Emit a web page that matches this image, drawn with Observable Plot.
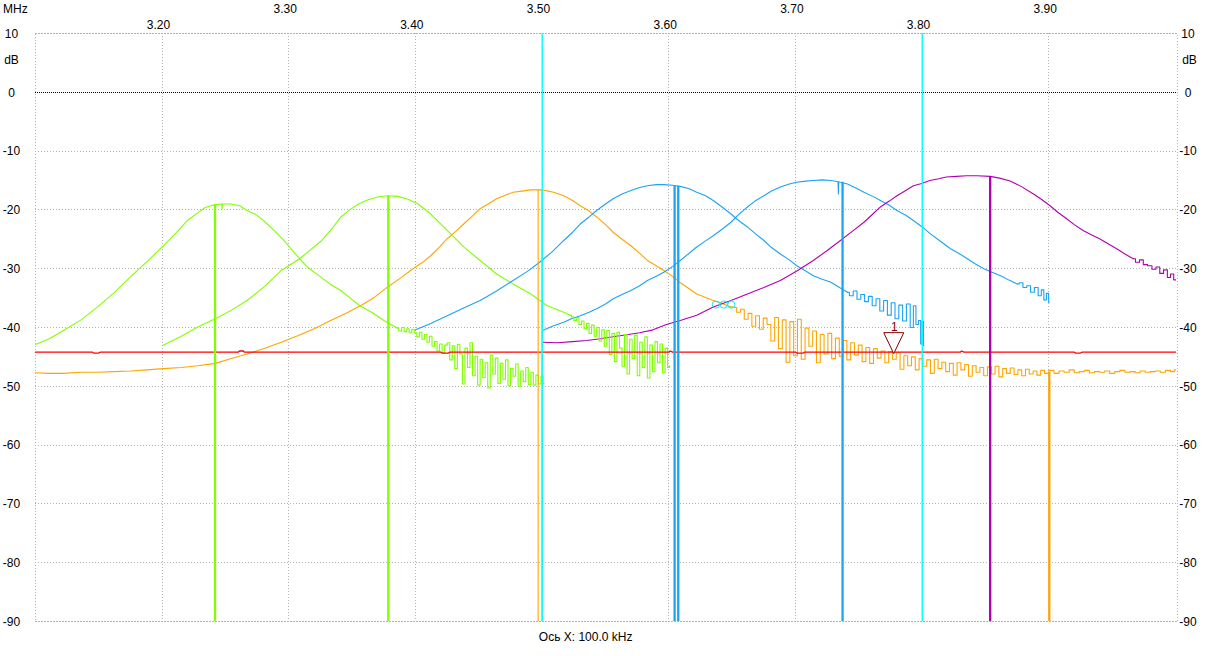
<!DOCTYPE html>
<html><head><meta charset="utf-8">
<script src="https://cdn.jsdelivr.net/npm/d3@7"></script>
<script src="https://cdn.jsdelivr.net/npm/@observablehq/plot@0.6"></script>
<style>html,body{margin:0;padding:0;background:#fff;overflow:hidden}</style>
</head><body><div id="chart"></div>
<script>
// ---- axes / labels ----
const xTicksLow = [3.2, 3.4, 3.6, 3.8];
const xTicksHigh = [3.3, 3.5, 3.7, 3.9];
const xGrid = [3.2, 3.3, 3.4, 3.5, 3.6, 3.7, 3.8, 3.9];
const yTicks = [10, 0, -10, -20, -30, -40, -50, -60, -70, -80, -90];
const xUnit = "MHz";
const yUnit = "dB";
const caption = "Ось X: 100.0 kHz";

// ---- traces [MHz, dB]: smooth part and noisy part of each ----
const traceG1 = [
[3.100,-42.9],[3.111,-41.9],[3.122,-40.5],[3.136,-38.7],[3.149,-36.5],[3.162,-34.1],[3.175,-31.4],[3.188,-28.8],[3.201,-26.1],[3.211,-23.9],[3.220,-21.8],[3.228,-20.5],[3.234,-19.6],[3.239,-19.25],[3.242,-19.1],[3.247,-19.0],[3.2473,-19.9],[3.2476,-19.0],[3.254,-19.0],[3.261,-19.3],[3.267,-20.1],[3.274,-20.8],[3.280,-21.8],[3.288,-23.4],[3.296,-25.2],[3.3065,-27.8],[3.315,-29.8],[3.325,-31.4],[3.333,-32.7],[3.341,-33.7],[3.349,-35.1],[3.356,-36.3],[3.366,-37.5],[3.375,-38.8],[3.3855,-40.1]
];
const noiseG1 = [
[3.3855,-40.1],[3.388,-40.6],[3.390,-40.0],[3.392,-40.7],[3.394,-40.2],[3.396,-40.9],[3.398,-40.3],
[3.400,-40.9],[3.402,-41.6],[3.404,-40.8],[3.406,-42.0],[3.408,-41.2],[3.410,-42.5],[3.412,-41.5],[3.414,-43.2],[3.416,-42.4],[3.418,-44.0],[3.420,-42.8],[3.422,-44.3],[3.424,-43.0],[3.426,-42.6],[3.428,-45.5],[3.430,-43.1],[3.432,-47.0],[3.434,-42.9],[3.436,-44.5],[3.438,-49.6],[3.440,-43.5],[3.442,-46.8],[3.444,-42.6],[3.446,-48.2],[3.448,-44.9],[3.450,-49.8],[3.452,-45.4],[3.454,-48.5],[3.456,-46.0],[3.458,-50.3],[3.460,-44.7],[3.462,-47.9],[3.464,-45.2],[3.466,-49.5],[3.468,-46.1],[3.470,-48.8],[3.472,-45.5],[3.474,-49.9],[3.476,-47.0],[3.478,-48.3],[3.480,-46.2],[3.482,-50.0],[3.484,-47.4],[3.486,-49.2],[3.488,-46.8],[3.490,-49.7],[3.492,-47.6],[3.494,-49.8],[3.496,-48.1],[3.498,-49.6],[3.500,-48.3],[3.5015,-49.5]
];
const traceG2 = [
[3.200,-43.1],[3.214,-41.6],[3.228,-39.9],[3.242,-38.5],[3.255,-37.0],[3.267,-35.4],[3.281,-33.0],[3.294,-30.3],[3.3085,-28.3],[3.317,-26.8],[3.326,-25.2],[3.334,-23.2],[3.341,-21.2],[3.348,-20.0],[3.355,-19.0],[3.362,-18.3],[3.370,-17.8],[3.378,-17.6],[3.386,-17.7],[3.394,-18.2],[3.402,-19.0],[3.412,-20.7],[3.425,-23.5],[3.438,-26.3],[3.451,-28.6],[3.464,-30.9],[3.477,-32.6],[3.491,-34.3],[3.504,-36.3],[3.517,-37.4],[3.522,-37.9]
];
const noiseG2 = [
[3.522,-37.9],[3.524,-38.2],[3.526,-38.8],[3.528,-38.3],[3.530,-39.5],[3.532,-38.9],[3.534,-40.2],[3.536,-39.3],[3.538,-41.0],[3.540,-39.6],[3.542,-41.5],[3.544,-40.0],[3.546,-42.3],[3.548,-40.4],[3.550,-43.2],[3.552,-40.5],[3.554,-44.6],[3.556,-41.0],[3.558,-45.8],[3.560,-40.8],[3.562,-43.5],[3.564,-46.6],[3.566,-41.2],[3.568,-47.9],[3.570,-42.0],[3.572,-45.3],[3.574,-41.3],[3.576,-48.2],[3.578,-42.5],[3.580,-46.8],[3.582,-41.6],[3.584,-48.6],[3.586,-43.0],[3.588,-47.5],[3.590,-42.4],[3.592,-46.0],[3.594,-42.8],[3.596,-47.7],[3.598,-43.5],[3.600,-46.8],[3.601,-46.5]
];
const traceO = [
[3.100,-47.7],[3.111,-47.8],[3.122,-47.8],[3.136,-47.6],[3.149,-47.6],[3.162,-47.5],[3.175,-47.4],[3.188,-47.2],[3.201,-47.0],[3.215,-46.8],[3.228,-46.5],[3.242,-46.1],[3.254,-45.3],[3.267,-44.5],[3.280,-43.6],[3.294,-42.5],[3.307,-41.4],[3.320,-40.2],[3.333,-38.8],[3.346,-37.5],[3.359,-36.0],[3.368,-34.8],[3.378,-33.1],[3.388,-31.6],[3.398,-30.0],[3.405,-29.0],[3.412,-27.8],[3.419,-26.3],[3.425,-24.9],[3.432,-23.6],[3.438,-22.4],[3.445,-21.0],[3.451,-19.8],[3.458,-18.9],[3.464,-18.1],[3.471,-17.5],[3.477,-17.0],[3.484,-16.8],[3.491,-16.6],[3.4968,-16.6],[3.4999,-16.6],[3.509,-17.0],[3.517,-17.6],[3.524,-18.4],[3.530,-19.3],[3.537,-20.2],[3.543,-21.2],[3.550,-22.5],[3.556,-23.8],[3.563,-25.0],[3.570,-26.1],[3.577,-27.4],[3.583,-28.6],[3.590,-29.5],[3.596,-30.3],[3.603,-31.3],[3.609,-32.4],[3.616,-33.4],[3.622,-34.3],[3.629,-34.9],[3.635,-35.4],[3.642,-35.9],[3.649,-36.5]
];
const noiseO = [
[3.649,-36.5],[3.652,-36.6],[3.655,-37.4],[3.658,-36.9],[3.661,-38.6],[3.664,-37.6],[3.667,-39.8],[3.670,-38.0],[3.673,-40.3],[3.676,-38.4],[3.679,-39.5],[3.682,-42.3],[3.685,-38.3],[3.688,-43.6],[3.691,-38.7],[3.694,-45.9],[3.697,-39.0],[3.700,-44.8],[3.703,-38.6],[3.706,-45.4],[3.709,-40.1],[3.712,-43.2],[3.715,-40.6],[3.718,-46.0],[3.721,-41.2],[3.724,-44.5],[3.727,-41.0],[3.730,-45.3],[3.733,-41.8],[3.736,-44.9],[3.739,-42.2],[3.742,-45.5],[3.745,-42.6],[3.748,-44.7],[3.751,-43.0],[3.754,-45.8],[3.757,-43.4],[3.760,-46.1],[3.763,-43.6],[3.766,-45.2],[3.769,-44.0],[3.772,-46.0],[3.775,-44.1],[3.778,-45.4],[3.781,-44.3],[3.784,-47.1],[3.787,-44.8],[3.790,-46.5],[3.793,-45.0],[3.796,-47.2],[3.799,-45.3],[3.802,-46.6],[3.805,-45.5],[3.808,-47.8],[3.811,-45.4],[3.814,-47.0],[3.817,-45.9],[3.820,-47.5],[3.823,-46.1],[3.826,-48.1],[3.829,-46.0],[3.832,-47.2],[3.835,-46.3],[3.838,-48.3],[3.841,-46.5],[3.844,-47.6],[3.847,-46.8],[3.850,-48.2],[3.853,-46.7],[3.856,-47.9],[3.859,-46.6],[3.862,-48.4],[3.865,-47.0],[3.868,-47.8],[3.871,-46.9],[3.874,-48.0],[3.877,-47.2],[3.880,-48.2],[3.883,-47.1],[3.886,-47.9],[3.889,-47.4],[3.892,-48.1],[3.895,-47.3],[3.898,-47.8],
[3.902,-47.3],[3.906,-47.8],[3.910,-47.4],[3.914,-47.6],[3.918,-47.2],[3.922,-47.7],[3.926,-47.5],[3.930,-47.3],[3.934,-47.7],[3.938,-47.5],[3.942,-47.6],[3.946,-47.4],[3.950,-47.8],[3.954,-47.5],[3.958,-47.3],[3.962,-47.6],[3.966,-47.5],[3.970,-47.7],[3.974,-47.4],[3.978,-47.6],[3.982,-47.5],[3.986,-47.4],[3.990,-47.6],[3.994,-47.3],[3.998,-47.5],[4.000,-47.2]
];
const traceB1 = [
[3.400,-40.4],[3.412,-39.3],[3.425,-38.0],[3.438,-36.7],[3.451,-35.4],[3.464,-33.8],[3.477,-32.0],[3.488,-30.5],[3.498,-28.9],[3.508,-27.1],[3.517,-25.2],[3.524,-23.8],[3.530,-22.4],[3.537,-21.2],[3.543,-20.1],[3.550,-19.0],[3.556,-18.1],[3.563,-17.3],[3.570,-16.7],[3.577,-16.2],[3.583,-15.9],[3.590,-15.7],[3.596,-15.7],[3.603,-15.8],[3.609,-16.0],[3.616,-16.4],[3.622,-17.0],[3.629,-17.6],[3.635,-18.4],[3.642,-19.5],[3.649,-20.7],[3.655,-21.8],[3.662,-22.9],[3.668,-24.0],[3.675,-25.2],[3.681,-26.4],[3.688,-27.5],[3.695,-28.5],[3.701,-29.5],[3.708,-30.4],[3.714,-31.2],[3.721,-31.8],[3.728,-32.3],[3.734,-33.1],[3.741,-34.0]
];
const noiseB1 = [
[3.741,-34.0],[3.744,-34.6],[3.747,-33.8],[3.750,-35.2],[3.753,-34.4],[3.756,-35.6],[3.759,-34.7],[3.762,-36.3],[3.765,-35.1],[3.768,-37.2],[3.771,-35.4],[3.774,-37.9],[3.777,-35.8],[3.780,-38.5],[3.783,-36.2],[3.786,-38.9],[3.789,-36.0],[3.792,-40.0],[3.794,-36.3],[3.796,-39.5],[3.798,-38.8],[3.7995,-42.8],[3.8005,-38.9],[3.8013,-43.1]
];
const traceB2 = [
[3.5004,-40.5],[3.508,-39.8],[3.517,-39.1],[3.523,-38.5],[3.530,-38.0],[3.537,-37.4],[3.543,-36.8],[3.550,-36.0],[3.556,-35.1],[3.563,-34.4],[3.570,-33.7],[3.577,-32.9],[3.583,-32.0],[3.590,-31.3],[3.596,-30.6],[3.603,-29.6],[3.609,-28.6],[3.6215,-26.4],[3.628,-25.4],[3.635,-24.4],[3.642,-23.3],[3.649,-22.1],[3.655,-20.8],[3.662,-19.5],[3.668,-18.5],[3.675,-17.6],[3.681,-16.8],[3.688,-16.1],[3.695,-15.6],[3.701,-15.3],[3.708,-15.1],[3.714,-15.0],[3.721,-14.9],[3.728,-15.0],[3.7335,-15.2],[3.7338,-17.3],[3.7341,-15.2],[3.7354,-15.3],[3.741,-15.6],[3.748,-16.3],[3.754,-17.0],[3.761,-17.7],[3.767,-18.4],[3.774,-19.2],[3.780,-20.1],[3.787,-20.9],[3.793,-21.8],[3.800,-22.9],[3.806,-24.0],[3.814,-25.3],[3.8224,-26.6],[3.829,-27.4],[3.8356,-28.3],[3.842,-29.2],[3.8487,-30.0],[3.855,-30.6],[3.8619,-31.2],[3.868,-31.9],[3.875,-32.6]
];
const noiseB2 = [
[3.875,-32.6],[3.878,-32.4],[3.881,-33.2],[3.884,-32.9],[3.887,-34.0],[3.890,-33.2],[3.893,-34.6],[3.895,-33.6],[3.897,-35.3],[3.899,-34.2],[3.9005,-35.7]
];
const traceP = [
[3.5004,-42.5],[3.512,-42.6],[3.524,-42.4],[3.535,-42.2],[3.546,-41.9],[3.5585,-41.5],[3.568,-41.2],[3.577,-40.9],[3.5875,-40.4],[3.598,-39.5],[3.609,-38.8],[3.622,-37.9],[3.635,-36.5],[3.649,-35.4],[3.662,-34.3],[3.675,-33.2],[3.688,-32.0],[3.701,-30.4],[3.714,-28.6],[3.725,-26.9],[3.7354,-25.2],[3.745,-23.6],[3.754,-22.1],[3.761,-20.7],[3.767,-19.5],[3.774,-18.5],[3.780,-17.6],[3.787,-16.7],[3.793,-15.9],[3.7996,-15.5],[3.806,-15.0],[3.813,-14.7],[3.819,-14.4],[3.8272,-14.3],[3.835,-14.2],[3.843,-14.2],[3.8536,-14.3],[3.861,-14.6],[3.8694,-15.1],[3.878,-16.0],[3.8878,-17.3],[3.894,-18.2],[3.9009,-19.3],[3.907,-20.4],[3.914,-21.5],[3.920,-22.5],[3.927,-23.5],[3.933,-24.2],[3.940,-24.9],[3.947,-25.8],[3.9535,-26.6],[3.960,-27.5],[3.9666,-28.3]
];
const noiseP = [
[3.9666,-28.3],[3.970,-28.9],[3.973,-28.5],[3.976,-29.3],[3.9797,-29.5],[3.983,-30.1],[3.986,-29.7],[3.989,-30.8],[3.992,-30.2],[3.995,-31.5],[3.997,-30.9],[4.000,-31.9]
];
const traceR = [
[3.100,-44.2],[3.145,-44.2],[3.146,-44.35],[3.150,-44.35],[3.151,-44.2],[3.260,-44.2],[3.261,-44.0],[3.264,-44.0],[3.265,-44.2],[3.420,-44.2],[3.421,-44.35],[3.426,-44.35],[3.427,-44.2],[3.600,-44.2],[3.601,-44.0],[3.603,-44.2],[3.700,-44.2],[3.701,-44.35],[3.706,-44.35],[3.707,-44.2],[3.830,-44.2],[3.831,-44.0],[3.833,-44.2],[3.920,-44.2],[3.921,-44.35],[3.925,-44.35],[3.926,-44.2],[4.000,-44.2]
];

const traceNames = ["o", "g1", "g2", "b1", "b2", "p", "r"];
const traceColors = ["#ffa500", "#80ff00", "#80ff00", "#1ba3f5", "#1ba3f5", "#b000b0", "#ff0000"];

// vertical marker lines (frequency, level where line starts, trace)
const markerFreq = [3.2417, 3.3785, 3.6045, 3.6074, 3.7371, 3.8536, 3.9003];
const markerTop = [-19.1, -17.7, -16.0, -16.0, -15.3, -14.3, -47.6];
const markerTrace = ["g1", "g2", "b1", "b1", "b2", "p", "o"];
const dipFreq = [3.4968, 3.4999];
const dipTop = [-16.6, -16.6];
const cursorFreq = [3.5, 3.8];

// marker "1"
const mark1 = {f: 3.7775, db: -44.45, label: "1"};
// small cyan circle markers
const circleFreq = [3.6371, 3.6434, 3.6493];
const circleDb = [-36.1, -36.1, -36.1];

// ---- build tables ----
const smoothData = [traceO, traceG1, traceG2, traceB1, traceB2, traceP, traceR];
const noiseData = [noiseO, noiseG1, noiseG2, noiseB1, noiseB2, noiseP, []];
const smoothRows = [], noiseRows = [];
smoothData.forEach((arr, i) => arr.forEach(([f, db]) => smoothRows.push({trace: traceNames[i], f, db})));
noiseData.forEach((arr, i) => arr.forEach(([f, db]) => noiseRows.push({trace: traceNames[i], f, db})));
const markers = markerFreq.map((f, i) => ({f, top: markerTop[i], trace: markerTrace[i]}));
const dips = dipFreq.map((f, i) => ({f, top: dipTop[i], trace: "o"}));
const circles = circleFreq.map((f, i) => ({f, db: circleDb[i]}));

const triSymbol = {draw(ctx) { ctx.moveTo(0, 0); ctx.lineTo(-10, -21); ctx.lineTo(10, -21); ctx.closePath(); }};
const fmt = d3.format(".2f");
const grid = "#b4b4b4";

const chart = Plot.plot({
  width: 1212, height: 656,
  marginLeft: 35, marginRight: 35, marginTop: 33, marginBottom: 35,
  x: {domain: [3.1, 4.0015], axis: null},
  y: {domain: [-90, 10], axis: null},
  color: {domain: traceNames, range: traceColors},
  style: {fontFamily: "'Liberation Sans', Arial, sans-serif", fontSize: "12px", background: "#fff", color: "#000"},
  marks: [
    Plot.frame({stroke: grid, strokeDasharray: "1,2", shapeRendering: "crispEdges"}),
    Plot.ruleX(xGrid, {stroke: grid, strokeDasharray: "1,2", shapeRendering: "crispEdges"}),
    Plot.ruleY(yTicks.filter(d => d !== 0), {stroke: grid, strokeDasharray: "1,2", shapeRendering: "crispEdges"}),
    Plot.ruleY([0], {stroke: "#000", strokeDasharray: "1,1", shapeRendering: "crispEdges"}),
    Plot.line(smoothRows.filter(d => d.trace !== "r"), {x: "f", y: "db", z: "trace", stroke: "trace", strokeWidth: 1.1}),
    Plot.line(noiseRows, {x: "f", y: "db", z: "trace", stroke: "trace", strokeWidth: 1.1, curve: "step"}),
    Plot.line(smoothRows.filter(d => d.trace === "r"), {x: "f", y: "db", stroke: "trace", strokeWidth: 1.3}),
    Plot.ruleX(dips, {x: "f", y1: "top", y2: -90, stroke: "trace", strokeWidth: 1.1}),
    Plot.ruleX(markers, {x: "f", y1: "top", y2: -90, stroke: "trace", strokeWidth: 2.3}),
    Plot.ruleX(cursorFreq, {y1: 10, y2: -90, stroke: "#00ffff", strokeWidth: 1.4}),
    Plot.dot(circles, {x: "f", y: "db", r: 3.6, stroke: "#00f0ff", strokeWidth: 1}),
    Plot.dot([mark1], {x: "f", y: "db", symbol: triSymbol, r: 10, stroke: "#800000", fill: "#fff", strokeWidth: 1}),
    Plot.text([mark1], {x: "f", y: "db", text: "label", dy: -27, dx: 0.7, fill: "#800000", fontSize: 12}),
    // top tick labels (two staggered rows)
    Plot.text(xTicksLow, {x: d => d, text: d => fmt(d), frameAnchor: "top", lineAnchor: "middle", dy: -8.5, dx: -3.7}),
    Plot.text(xTicksHigh, {x: d => d, text: d => fmt(d), frameAnchor: "top", lineAnchor: "middle", dy: -24.2, dx: -3.7}),
    Plot.text([xUnit], {frameAnchor: "top-left", lineAnchor: "middle", dx: -32.5, dy: -24.2, textAnchor: "start"}),
    // y labels both sides
    Plot.text(yTicks, {y: d => d, text: d => String(d), frameAnchor: "left", lineAnchor: "middle", dx: -24, dy: 0.5, textAnchor: "middle"}),
    Plot.text(yTicks, {y: d => d, text: d => String(d), frameAnchor: "right", lineAnchor: "middle", dx: 10.5, dy: 0.5, textAnchor: "middle"}),
    Plot.text([yUnit], {frameAnchor: "top-left", lineAnchor: "middle", dx: -24, dy: 27, textAnchor: "middle"}),
    Plot.text([yUnit], {frameAnchor: "top-right", lineAnchor: "middle", dx: 12, dy: 27, textAnchor: "middle"}),
    Plot.text([caption], {frameAnchor: "bottom", lineAnchor: "middle", dx: -67.7, dy: 16, textAnchor: "start"})
  ]
});
document.getElementById("chart").appendChild(chart);
</script>
</body></html>
